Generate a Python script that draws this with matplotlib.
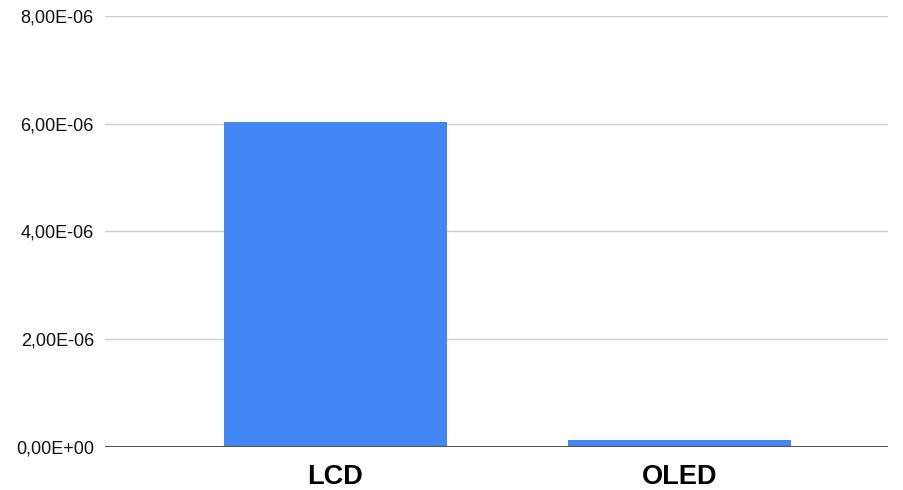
import matplotlib
matplotlib.use("Agg")
import matplotlib.pyplot as plt
from matplotlib.ticker import FuncFormatter

# Werte
categories = ["LCD", "OLED"]
values = [6.04e-06, 0.13e-06]
y_ticks = [0, 2e-06, 4e-06, 6e-06, 8e-06]

plt.rcParams['font.family'] = ['Liberation Sans', 'DejaVu Sans']

fig = plt.figure(figsize=(9.04, 4.9), dpi=100)
ax = fig.add_axes([105 / 904, 43 / 490, 783 / 904, 431 / 490])

x = range(len(categories))
ax.bar(x, values, width=0.647, color="#4285F4", zorder=3)

ax.set_xlim(-0.669, 1.604)
ax.set_ylim(0, 8e-06)
ax.set_yticks(y_ticks)

def fmt(v, pos):
    s = "%.2E" % v
    return s.replace(".", ",")

ax.yaxis.set_major_formatter(FuncFormatter(fmt))
ax.set_xticks(list(x))
ax.set_xticklabels(categories, fontsize=19.5, fontweight="bold")

ax.grid(axis="y", color="#cccccc", linewidth=1, zorder=0)
ax.axhline(0, color="#555555", linewidth=1.5, zorder=4)
for s in ax.spines.values():
    s.set_visible(False)
ax.tick_params(axis="y", length=0, pad=8, labelsize=13, labelcolor="#111111")
ax.tick_params(axis="x", length=0, pad=12, labelcolor="#000000")

fig.savefig("out.png", dpi=100)
